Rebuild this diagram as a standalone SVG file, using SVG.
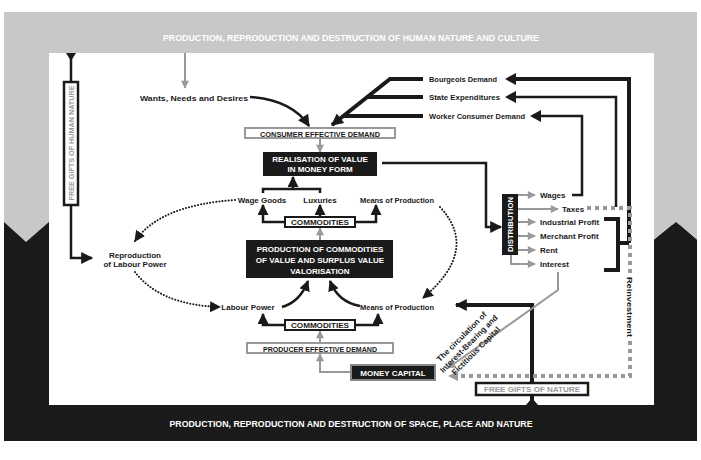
<svg xmlns="http://www.w3.org/2000/svg" width="701" height="460" viewBox="0 0 701 460">
<style>
text{font-family:"Liberation Sans",Arial,sans-serif;font-weight:bold;font-size:8px;fill:#1a1a1a}
.w{fill:#fff}
.g{fill:#999}
.band{font-size:9.5px;fill:#fff}
.bk{stroke:#1a1a1a;fill:none;stroke-width:2.5}
.thick{stroke:#1a1a1a;fill:none;stroke-width:4}
.gr{stroke:#999;fill:none;stroke-width:2}
.dot{stroke:#1a1a1a;fill:none;stroke-width:2;stroke-dasharray:0.1 3;stroke-linecap:round}
.dash{stroke:#999;fill:none;stroke-width:4;stroke-dasharray:4 4}
.box{fill:#fff;stroke:#999;stroke-width:2}
.bbox{fill:#1a1a1a}
</style>
<defs>
<marker id="ab" viewBox="0 0 10 10" refX="9" refY="5" markerWidth="13" markerHeight="12" orient="auto" markerUnits="userSpaceOnUse"><path d="M0,0L10,5L0,10z" fill="#1a1a1a"/></marker>
<marker id="abs" viewBox="0 0 10 10" refX="9" refY="5" markerWidth="11" markerHeight="11" orient="auto" markerUnits="userSpaceOnUse"><path d="M0,0L10,5L0,10z" fill="#1a1a1a"/></marker>
<marker id="ag" viewBox="0 0 10 10" refX="9" refY="5" markerWidth="9" markerHeight="8" orient="auto" markerUnits="userSpaceOnUse"><path d="M0,0L10,5L0,10z" fill="#999"/></marker>
</defs>
<rect width="701" height="460" fill="#fff"/>
<g id="frame">
<rect x="4" y="220" width="45" height="221" fill="#1a1a1a"/>
<rect x="4" y="405" width="693" height="36" fill="#1a1a1a"/>
<rect x="654" y="225" width="43" height="216" fill="#1a1a1a"/>
<path d="M4,12H697V240L676,222L654,240V53H49V222L26,242L4,222Z" fill="#c8c8c8"/>
<path d="M654,240L676,222L697,240V260H654Z" fill="#1a1a1a"/>
<text class="band" x="351" y="41" text-anchor="middle" textLength="376" lengthAdjust="spacingAndGlyphs">PRODUCTION, REPRODUCTION AND DESTRUCTION OF HUMAN NATURE AND CULTURE</text>
<text class="band" x="351" y="427" text-anchor="middle" textLength="363" lengthAdjust="spacingAndGlyphs">PRODUCTION, REPRODUCTION AND DESTRUCTION OF SPACE, PLACE AND NATURE</text>
</g>
<g id="connectors">
<path d="M66,53H76L71,61Z" fill="#1a1a1a"/>
<path class="bk" d="M71,58V258H92" marker-end="url(#ab)"/>
<path class="gr" d="M185,53V88" marker-end="url(#ag)"/>
<path class="bk" d="M250,97Q292,100 309,126" marker-end="url(#ab)"/>
<path class="thick" d="M423,79H390L332,125" marker-end="url(#ab)"/>
<path class="thick" d="M423,97H366"/>
<path class="thick" d="M423,116H343"/>
<path class="gr" d="M320,138V152" marker-end="url(#ag)"/>
<path class="bk" d="M382,163H486V227H501" marker-end="url(#ab)"/>
<path class="bk" d="M263,193V189H320V193M293,189V177" marker-end="url(#abs)"/>
<path class="bk" d="M285,222H263V205" marker-end="url(#abs)"/>
<path class="bk" d="M320,216V205" marker-end="url(#abs)"/>
<path class="bk" d="M355,222H376V205" marker-end="url(#abs)"/>
<path class="gr" d="M320,240V228" stroke-width="3" marker-end="url(#ag)"/>
<path class="dot" d="M235,200Q160,205 135,241" marker-end="url(#abs)"/>
<path class="dot" d="M135,272Q160,305 220,307" marker-end="url(#abs)"/>
<path class="dot" d="M440,207Q480,250 423,298" marker-end="url(#abs)"/>
<path class="bk" d="M282,307Q300,302 308,281" marker-end="url(#abs)"/>
<path class="bk" d="M360,306Q338,302 330,281" marker-end="url(#abs)"/>
<path class="bk" d="M285,325H263V314" marker-end="url(#abs)"/>
<path class="bk" d="M355,325H378V314" marker-end="url(#abs)"/>
<path class="gr" d="M320,343V331" stroke-width="3" marker-end="url(#ag)"/>
<path class="gr" d="M350,372H320V354" stroke-width="2.5" marker-end="url(#ag)"/>
<path class="thick" d="M532,405V305H456" marker-end="url(#ab)"/>
<path d="M526,405L532,398L538,405Z" fill="#1a1a1a"/>
<path class="thick" d="M508,79H629V243"/>
<path class="bk" d="M508,97H616V207"/>
<path class="bk" d="M533,116H582V195H572"/>
<path class="thick" d="M604,219H618V270H604M618,243H629"/>
<path class="dash" d="M587,208H630V376H452"/>
<path d="M448,376L458,371V381Z" fill="#999"/>
<path class="gr" d="M558,272V290L448,368" marker-end="url(#ag)"/>
<path class="gr" d="M513,195H535" marker-end="url(#ag)"/>
<path class="gr" d="M513,209H558" marker-end="url(#ag)"/>
<path class="gr" d="M513,222H535" marker-end="url(#ag)"/>
<path class="gr" d="M513,236H535" marker-end="url(#ag)"/>
<path class="gr" d="M513,250H535" marker-end="url(#ag)"/>
<path class="gr" d="M511,255V264H535" marker-end="url(#ag)"/>
<path d="M505,79L516,73V85Z M505,97L516,91V103Z M530,116L541,110V122Z" fill="#1a1a1a"/>
</g>
<g id="n-free-human"><rect x="64" y="82" width="14" height="123" fill="#fff" stroke="#1a1a1a" stroke-width="2.5"/><text class="g" transform="translate(74,143) rotate(-90)" text-anchor="middle" font-size="7.5" textLength="115" lengthAdjust="spacingAndGlyphs">FREE GIFTS OF HUMAN NATURE</text></g>
<g id="n-wants"><text x="194" y="101" text-anchor="middle" textLength="108" lengthAdjust="spacingAndGlyphs">Wants, Needs and Desires</text></g>
<g id="n-bourgeois"><text x="429" y="82" textLength="68" lengthAdjust="spacingAndGlyphs">Bourgeois Demand</text></g>
<g id="n-state"><text x="429" y="100" textLength="71" lengthAdjust="spacingAndGlyphs">State Expenditures</text></g>
<g id="n-worker"><text x="429" y="119" textLength="96" lengthAdjust="spacingAndGlyphs">Worker Consumer Demand</text></g>
<g id="n-ced"><rect class="box" x="245" y="128" width="150" height="10"/><text x="320" y="136.5" text-anchor="middle" font-size="7.5" textLength="120" lengthAdjust="spacingAndGlyphs">CONSUMER EFFECTIVE DEMAND</text></g>
<g id="n-realisation"><rect class="bbox" x="263" y="152" width="114" height="24"/><text class="w" x="320" y="162" text-anchor="middle">REALISATION OF VALUE</text><text class="w" x="320" y="172" text-anchor="middle">IN MONEY FORM</text></g>
<g id="n-wage"><text x="262" y="203" text-anchor="middle">Wage Goods</text></g>
<g id="n-lux"><text x="320" y="203" text-anchor="middle">Luxuries</text></g>
<g id="n-mop1"><text x="397" y="203" text-anchor="middle" textLength="74" lengthAdjust="spacingAndGlyphs">Means of Production</text></g>
<g id="n-com1"><rect x="285" y="217" width="70" height="10" fill="#fff" stroke="#1a1a1a" stroke-width="2"/><text x="320" y="225" text-anchor="middle" font-size="7.5" textLength="58" lengthAdjust="spacingAndGlyphs">COMMODITIES</text></g>
<g id="n-production"><rect class="bbox" x="246" y="240" width="147" height="38"/><text class="w" x="320" y="252" text-anchor="middle" font-size="9">PRODUCTION OF COMMODITIES</text><text class="w" x="320" y="263" text-anchor="middle" font-size="9">OF VALUE AND SURPLUS VALUE</text><text class="w" x="320" y="274" text-anchor="middle" font-size="9">VALORISATION</text></g>
<g id="n-reproduction"><text x="135" y="258" text-anchor="middle">Reproduction</text><text x="135" y="267" text-anchor="middle">of Labour Power</text></g>
<g id="n-labour"><text x="248" y="310" text-anchor="middle">Labour Power</text></g>
<g id="n-mop2"><text x="397" y="310" text-anchor="middle" textLength="74" lengthAdjust="spacingAndGlyphs">Means of Production</text></g>
<g id="n-com2"><rect x="285" y="320" width="70" height="10" fill="#fff" stroke="#1a1a1a" stroke-width="2"/><text x="320" y="328" text-anchor="middle" font-size="7.5" textLength="58" lengthAdjust="spacingAndGlyphs">COMMODITIES</text></g>
<g id="n-ped"><rect class="box" x="247" y="343" width="146" height="10"/><text x="320" y="351.5" text-anchor="middle" font-size="7.5" textLength="114" lengthAdjust="spacingAndGlyphs">PRODUCER EFFECTIVE DEMAND</text></g>
<g id="n-money"><rect x="351" y="365" width="84" height="15" fill="#1a1a1a" stroke="#888" stroke-width="2"/><text class="w" x="393" y="376" text-anchor="middle" font-size="9">MONEY CAPITAL</text></g>
<g id="n-distribution"><rect class="bbox" x="502" y="194" width="16" height="61"/><text class="w" transform="translate(513,224.5) rotate(-90)" text-anchor="middle" font-size="8" textLength="55" lengthAdjust="spacingAndGlyphs">DISTRIBUTION</text></g>
<g id="n-dist-items"><text x="540" y="198">Wages</text><text x="562" y="212">Taxes</text><text x="540" y="225">Industrial Profit</text><text x="540" y="239">Merchant Profit</text><text x="540" y="253">Rent</text><text x="540" y="267">Interest</text></g>
<g id="n-reinvest"><rect x="624" y="274" width="12" height="66" fill="#fff"/><text transform="translate(626.5,307) rotate(90)" text-anchor="middle" font-size="9" textLength="60" lengthAdjust="spacingAndGlyphs">Reinvestment</text></g>
<g id="n-circ"><g transform="translate(470,345) rotate(-45)"><text x="0" y="-9" text-anchor="middle" font-size="8.5">The circulation of</text><text x="0" y="1" text-anchor="middle" font-size="8.5">Interest-Bearing and</text><text x="0" y="11" text-anchor="middle" font-size="8.5">Fictitious Capital</text></g></g>
<g id="n-free-nature"><rect x="476" y="383" width="112" height="12" fill="#fff" stroke="#1a1a1a" stroke-width="2.5"/><text class="g" x="532" y="392" text-anchor="middle" font-size="7.5" textLength="96" lengthAdjust="spacingAndGlyphs">FREE GIFTS OF NATURE</text></g>
</svg>
